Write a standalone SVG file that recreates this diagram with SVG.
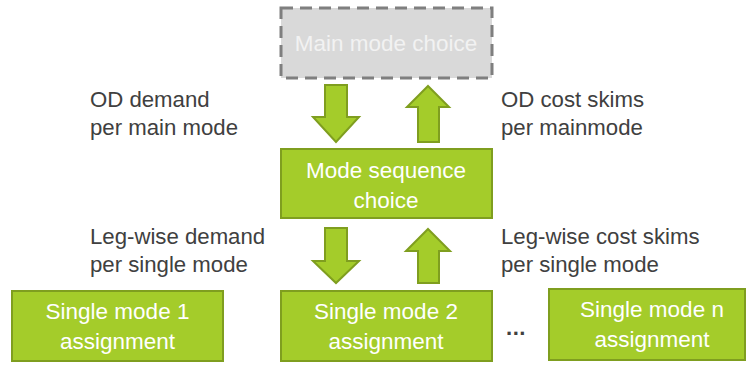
<svg xmlns="http://www.w3.org/2000/svg" width="751" height="365" viewBox="0 0 751 365">
  <style>
    .box { fill: #a4cc2a; stroke: #7f9e1f; stroke-width: 2; }
    .ghost { fill: #d9d9d9; stroke: #7f7f7f; stroke-width: 3; stroke-dasharray: 12 7; }
    .arrow { fill: #a4cc2a; stroke: #7f9e1f; stroke-width: 2; stroke-linejoin: miter; }
    .t { font-family: "Liberation Sans", Arial, sans-serif; font-size: 22.5px; }
    .in { fill: #ffffff; text-anchor: middle; }
    .ghost-text { fill: #f2f2f2; text-anchor: middle; }
    .lbl { fill: #404040; font-size: 22.2px; }
  </style>

  <!-- top: main mode choice (dashed, inactive) -->
  <g id="main-mode-choice">
    <rect class="ghost" x="281" y="8" width="211" height="70"/>
    <text class="t ghost-text" x="386" y="51">Main mode choice</text>
  </g>

  <g id="mode-sequence-choice">
    <rect class="box" x="281" y="149" width="211" height="69"/>
    <text class="t in" x="386" y="178">Mode sequence</text>
    <text class="t in" x="386" y="208">choice</text>
  </g>

  <g id="single-mode-1">
    <rect class="box" x="12" y="291" width="211" height="70"/>
    <text class="t in" x="117.5" y="319">Single mode 1</text>
    <text class="t in" x="117.5" y="349">assignment</text>
  </g>

  <g id="single-mode-2">
    <rect class="box" x="281" y="291" width="211" height="70"/>
    <text class="t in" x="386" y="319">Single mode 2</text>
    <text class="t in" x="386" y="349">assignment</text>
  </g>

  <g id="single-mode-n">
    <rect class="box" x="549" y="289" width="196" height="71"/>
    <text class="t in" x="652" y="317">Single mode n</text>
    <text class="t in" x="652" y="347">assignment</text>
  </g>

  <g id="ellipsis">
    <text class="t lbl" x="506" y="335" font-size="27px" font-weight="bold" letter-spacing="0.5">...</text>
  </g>

  <!-- block arrows between the levels -->
  <g id="connectors">
    <polygon class="arrow" points="325,85 347,85 347,117 359,117 336,142 313,117 325,117"/>
    <polygon class="arrow" points="428,86 449,107 439,107 439,142 418,142 418,107 407,107"/>
    <polygon class="arrow" points="325,228 347,228 347,261 359,261 336,283 313,261 325,261"/>
    <polygon class="arrow" points="428,229 450,251 439,251 439,283 418,283 418,251 406,251"/>
  </g>

  <g id="labels">
    <text class="t lbl" x="90" y="107">OD demand</text>
    <text class="t lbl" x="90" y="135">per main mode</text>
    <text class="t lbl" x="501" y="107">OD cost skims</text>
    <text class="t lbl" x="501" y="135">per mainmode</text>
    <text class="t lbl" x="90" y="244">Leg-wise demand</text>
    <text class="t lbl" x="90" y="272">per single mode</text>
    <text class="t lbl" x="501" y="244">Leg-wise cost skims</text>
    <text class="t lbl" x="501" y="272">per single mode</text>
  </g>
</svg>
